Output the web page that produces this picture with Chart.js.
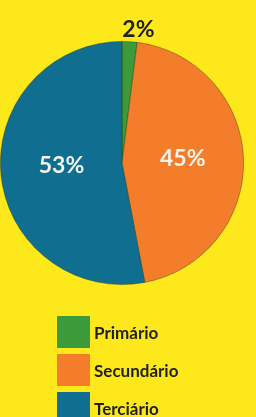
<!DOCTYPE html>
<html>
<head>
<meta charset="utf-8">
<script src="https://cdn.jsdelivr.net/npm/chart.js@4/dist/chart.umd.min.js"></script>
<style>
    html, body { margin: 0; padding: 0; background: #fde81c; }
    #wrap { position: relative; width: 256px; height: 417px; overflow: hidden; }
    #pie { position: absolute; left: 0; top: 0; }
    #legend { position: absolute; left: 57px; top: 313px; margin: 0; padding: 0; list-style: none; }
    #legend li { display: flex; align-items: center; height: 38px; }
    #legend .box { width: 33px; height: 32px; margin-right: 4px; }
    #legend .txt { font: bold 17px Lato, "Open Sans", sans-serif; color: #1f2024; }
</style>
</head>
<body>
<div id="wrap">
    <canvas id="pie" width="256" height="417"></canvas>
    <ul id="legend"></ul>
</div>
<script>
// Data
const sectors = ['Primário', 'Secundário', 'Terciário'];
const shares = [2, 45, 53];
const sectorColors = ['#3d9a38', '#f47d2b', '#106f91'];
const labelColors = ['#1f2024', '#f4f4ee', '#f4f4ee'];

// Percent labels drawn on the slices (small slices get theirs outside)
const percentLabels = {
    id: 'percentLabels',
    afterDatasetsDraw(chart) {
        const ctx = chart.ctx;
        const meta = chart.getDatasetMeta(0);
        ctx.save();
        ctx.font = 'bold 23px Lato, "Open Sans", sans-serif';
        ctx.textAlign = 'center';
        ctx.textBaseline = 'middle';
        meta.data.forEach((arc, i) => {
            const value = chart.data.datasets[0].data[i];
            const mid = (arc.startAngle + arc.endAngle) / 2;
            const outside = value < 5;
            const dist = outside ? arc.outerRadius + 12 : arc.outerRadius * 0.5;
            let x = arc.x + Math.cos(mid) * dist;
            let y = arc.y + Math.sin(mid) * dist;
            if (outside) x += 8;
            else y -= 3;
            ctx.fillStyle = labelColors[i];
            ctx.fillText(value + '%', x, y);
        });
        ctx.restore();
    }
};

const pieChart = new Chart(document.getElementById('pie').getContext('2d'), {
    type: 'pie',
    data: {
        labels: sectors,
        datasets: [{
            data: shares,
            backgroundColor: sectorColors,
            borderColor: 'rgba(20, 40, 30, 0.45)',
            borderWidth: 0.8
        }]
    },
    options: {
        responsive: false,
        animation: false,
        layout: {
            padding: { left: 0, right: 12, top: 41, bottom: 132 }
        },
        plugins: {
            legend: { display: false },
            tooltip: { enabled: false }
        }
    },
    plugins: [percentLabels]
});

// Legend
const legend = document.getElementById('legend');
pieChart.data.labels.forEach((label, i) => {
    const li = document.createElement('li');
    li.innerHTML = `<span class="box" style="background:${sectorColors[i]}"></span><span class="txt">${label}</span>`;
    legend.appendChild(li);
});
</script>
</body>
</html>
